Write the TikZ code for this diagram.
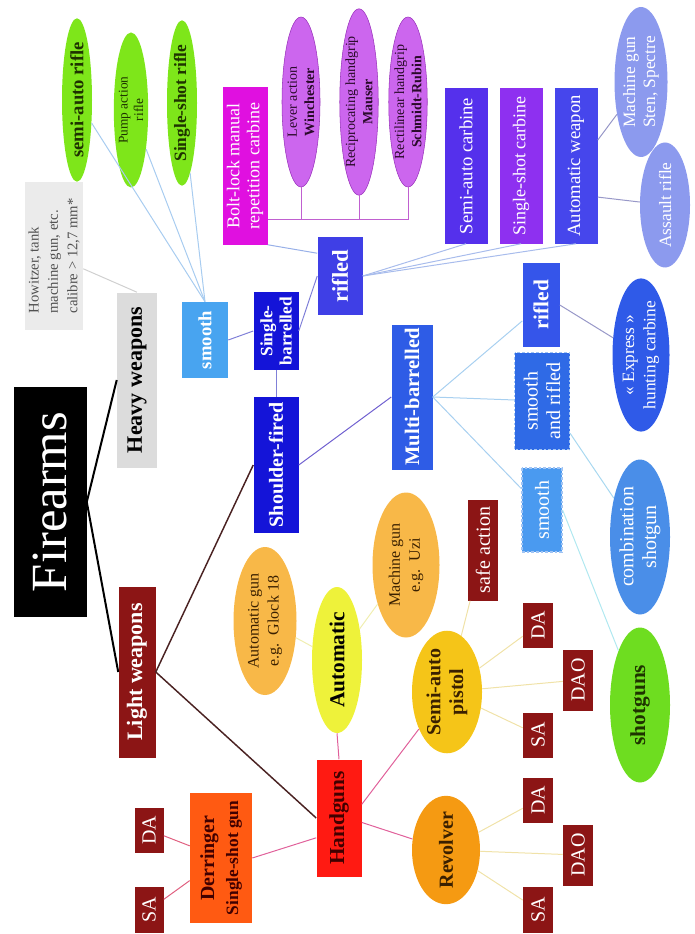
\documentclass[tikz,border=0pt]{standalone}
\usepackage{fontspec}
\setmainfont{Liberation Serif}
\usetikzlibrary{shapes.geometric}
\newcommand\fz[2]{\fontsize{#1}{#2}\selectfont}
\definecolor{howgray}{HTML}{EBEBEB}
\definecolor{howtext}{HTML}{505050}
\definecolor{heavygray}{HTML}{DCDCDC}
\definecolor{maroonx}{HTML}{8C1515}
\definecolor{shoulderblue}{HTML}{1414D8}
\definecolor{smoothblue}{HTML}{48A4F0}
\definecolor{rifblue}{HTML}{3F3FE6}
\definecolor{boltmag}{HTML}{E010E0}
\definecolor{greenell}{HTML}{7EE61A}
\definecolor{greentext}{HTML}{1E3300}
\definecolor{purpleell}{HTML}{CC66EE}
\definecolor{purpleedge}{HTML}{9933BB}
\definecolor{purpletext}{HTML}{2A0A2A}
\definecolor{sacblue}{HTML}{5530EC}
\definecolor{sscpurple}{HTML}{8E30F0}
\definecolor{awblue}{HTML}{4646EC}
\definecolor{periw}{HTML}{8C9AEE}
\definecolor{multiblue}{HTML}{2E5CE6}
\definecolor{rif2blue}{HTML}{3555EA}
\definecolor{srblue}{HTML}{2F6AE6}
\definecolor{sm2blue}{HTML}{4A9AF0}
\definecolor{dashedge}{HTML}{A0C4F4}
\definecolor{expblue}{HTML}{2F5AE8}
\definecolor{combblue}{HTML}{4A8EE8}
\definecolor{shotgreen}{HTML}{6EDD20}
\definecolor{orangeell}{HTML}{F8B848}
\definecolor{orangetext}{HTML}{3A2000}
\definecolor{autoyellow}{HTML}{EEF23A}
\definecolor{handred}{HTML}{FF1A12}
\definecolor{handtext}{HTML}{400000}
\definecolor{derorange}{HTML}{FF5A12}
\definecolor{sapyellow}{HTML}{F5C518}
\definecolor{revorange}{HTML}{F59A12}
\definecolor{lnlight}{HTML}{4A2222}
\definecolor{lnhow}{HTML}{D0D0D0}
\definecolor{lnsmooth}{HTML}{A8CCF0}
\definecolor{lnsingle}{HTML}{8080D8}
\definecolor{lnbolt}{HTML}{98B0E8}
\definecolor{lncarb}{HTML}{A8BCEC}
\definecolor{lnaw}{HTML}{9898C8}
\definecolor{lnmulti}{HTML}{7060D0}
\definecolor{lnmch}{HTML}{A8D0F0}
\definecolor{lncomb}{HTML}{A8D8F0}
\definecolor{lnshot}{HTML}{B0E8F0}
\definecolor{lnhand}{HTML}{E0609A}
\definecolor{lnauto}{HTML}{F0EEB0}
\definecolor{lnder}{HTML}{E06080}
\definecolor{lnsap}{HTML}{F0E2A8}
\definecolor{lnbrk}{HTML}{C060D0}
\tikzset{
  R/.style={rotate=90, inner sep=0pt, align=center, text=white},
  bx/.style={R, rectangle},
  el/.style={R, ellipse},
  sz/.style 2 args={minimum width=#2*0.75pt, minimum height=#1*0.75pt},
  ln/.style={line width=0.75pt},
  dbox/.style={bx, draw=dashedge, dashed, dash pattern=on 2pt off 1.5pt, line width=0.9pt},
  tag/.style={bx, fill=maroonx, font=\fz{15}{17}},
}
\begin{document}
\begin{tikzpicture}[x=0.75pt, y=-0.75pt]
\useasboundingbox (0,0) rectangle (694,934);
% ---------- top level
\node[bx, sz={73}{230}, fill=black, font=\fz{38}{40}] (fire) at (50,502) {Firearms};
\node[bx, sz={40}{175}, fill=heavygray, text=black, font=\fz{16.5}{18}\bfseries] (heavy) at (137,380) {Heavy weapons};
\node[bx, sz={58}{148}, fill=howgray, text=howtext, align=left, font=\fz{11}{14.5}] (how) at (54,256) {Howitzer, tank\\machine gun, etc.\\calibre > 12,7 mm*};
\node[bx, sz={37}{171}, fill=maroonx, font=\fz{16.5}{18}\bfseries] (light) at (137,672) {Light weapons};
% ---------- shoulder-fired
\node[bx, sz={45}{136}, fill=shoulderblue, font=\fz{15}{17}\bfseries] (shoulder) at (276,465) {Shoulder-fired};
\node[bx, sz={45}{78}, fill=shoulderblue, font=\fz{13}{14.5}\bfseries] (single) at (276,331) {Single-\\barrelled};
\node[bx, sz={46}{76}, fill=smoothblue, font=\fz{14}{16}\bfseries] (smooth1) at (205,340) {smooth};
\node[bx, sz={45}{78}, fill=rifblue, font=\fz{17}{19}\bfseries] (rif1) at (340,276) {rifled};
\node[bx, sz={45}{157}, fill=boltmag, font=\fz{13.5}{15}] (bolt) at (245,166) {Bolt-lock manual\\repetition carbine};
\node[el, sz={30}{140}, fill=greenell, text=greentext, font=\fz{14}{16}\bfseries] (sar) at (77,100) {semi-auto rifle};
\node[el, sz={33}{155}, fill=greenell, text=greentext, font=\fz{10}{11.5}] (par) at (131,110) {Pump action\\rifle};
\node[el, sz={30}{140}, fill=greenell, text=greentext, font=\fz{13}{15}\bfseries] (ssr) at (182,103) {Single-shot rifle};
\node[el, sz={38}{170}, fill=purpleell, draw=purpleedge, text=purpletext, font=\fz{10.5}{13}] (lever) at (301,102) {Lever action\\\textbf{Winchester}};
\node[el, sz={37}{170}, fill=purpleell, draw=purpleedge, text=purpletext, font=\fz{10.5}{13}] (mauser) at (359,102) {Reciprocating handgrip\\\textbf{Mauser}};
\node[el, sz={38}{170}, fill=purpleell, draw=purpleedge, text=purpletext, font=\fz{10.5}{13}] (schmidt) at (408,102) {Rectilinear handgrip\\\textbf{Schmidt-Rubin}};
\node[bx, sz={43}{155}, fill=sacblue, font=\fz{14}{16}] (sac) at (466,166) {Semi-auto carbine};
\node[bx, sz={43}{155}, fill=sscpurple, font=\fz{13.5}{16}] (ssc) at (521,166) {Single-shot carbine};
\node[bx, sz={43}{155}, fill=awblue, font=\fz{14}{16}] (aw) at (576,166) {Automatic weapon};
\node[el, sz={53}{150}, fill=periw, font=\fz{13}{15}] (mg) at (641,82) {Machine gun\\Sten, Spectre};
\node[el, sz={50}{125}, fill=periw, font=\fz{13}{15}] (ar) at (665,205) {Assault rifle};
\node[bx, sz={41}{145}, fill=multiblue, font=\fz{15.5}{17}\bfseries] (multi) at (412,397) {Multi-barrelled};
\node[bx, sz={37}{84}, fill=rif2blue, font=\fz{16}{18}\bfseries] (rif2) at (541,305) {rifled};
\node[dbox, sz={55}{97}, fill=srblue, font=\fz{15}{17}] (sr) at (542,401) {smooth\\and rifled};
\node[dbox, sz={40}{84}, fill=sm2blue, font=\fz{15}{17}] (sm2) at (542,510) {smooth};
\node[el, sz={57}{144}, fill=expblue, font=\fz{13}{16}] (exp) at (641,355) {«~Express~»\\hunting carbine};
\node[el, sz={60}{155}, fill=combblue, font=\fz{15}{17}] (comb) at (640,537) {combination\\shotgun};
\node[el, sz={60}{155}, fill=shotgreen, text=greentext, font=\fz{16}{18}\bfseries] (shot) at (640,705) {shotguns};
% ---------- handguns
\node[el, sz={63}{148}, fill=orangeell, text=orangetext, font=\fz{12}{15}] (glock) at (265,621) {Automatic gun\\e.g.~~Glock 18};
\node[el, sz={50}{146}, fill=autoyellow, text=black, font=\fz{16}{18}\bfseries] (auto) at (337,660) {Automatic};
\node[el, sz={67}{145}, fill=orangeell, text=orangetext, font=\fz{12}{15}] (uzi) at (406,565) {Machine gun\\e.g.~~Uzi};
\node[bx, sz={45}{117}, fill=handred, text=handtext, font=\fz{16}{18}\bfseries] (hand) at (339,818) {Handguns};
\node[bx, sz={62}{130}, fill=derorange, text=handtext, font=\fz{13}{18}\bfseries] (der) at (221,858) {{\fz{15}{18}Derringer}\\Single-shot gun};
\node[tag, sz={29}{45}] (da0) at (149,830) {DA};
\node[tag, sz={29}{46}] (sa0) at (149,910) {SA};
\node[el, sz={70}{100}, fill=sapyellow, text=orangetext, font=\fz{15}{17}\bfseries] (sap) at (447,692) {Semi-auto\\pistol};
\node[el, sz={68}{100}, fill=revorange, text=orangetext, font=\fz{15}{17}\bfseries] (rev) at (446,850) {Revolver};
\node[tag, sz={30}{101}] (safe) at (483,550) {safe action};
\node[tag, sz={30}{45}] (da1) at (538,625) {DA};
\node[tag, sz={30}{61}] (dao1) at (578,680) {DAO};
\node[tag, sz={30}{45}] (sa1) at (538,735) {SA};
\node[tag, sz={30}{45}] (da2) at (538,800) {DA};
\node[tag, sz={30}{61}] (dao2) at (578,855) {DAO};
\node[tag, sz={30}{46}] (sa2) at (538,910) {SA};
% ---------- connectors
\draw[line width=1.5pt] (fire.south) -- (heavy.north);
\draw[line width=1.5pt] (fire.south) -- (light.north);
\draw[line width=1.1pt, lnlight] (light.south) -- (shoulder.north);
\draw[line width=1.1pt, lnlight] (light.south) -- (hand.north);
\draw[ln, lnhow] (how) -- (heavy.east);
\draw[ln, lnsmooth] (smooth1.east) -- (sar);
\draw[ln, lnsmooth] (smooth1.east) -- (par);
\draw[ln, lnsmooth] (smooth1.east) -- (ssr);
\draw[ln, lnsingle] (shoulder.east) -- (single.west);
\draw[ln, lnsingle] (single.north) -- (smooth1.south);
\draw[ln, lnsingle] (single.south) -- (rif1.north);
\draw[ln, lnbolt] (rif1.45) -- (bolt.south west);
\draw[ln, lncarb] (rif1.south) -- (sac.west);
\draw[ln, lncarb] (rif1.south) -- (ssc.west);
\draw[ln, lncarb] (rif1.south) -- (aw.west);
\coordinate (bj) at (0,220);
\draw[ln, lnbrk] (bolt.south |- bj) -- (schmidt.west |- bj);
\draw[ln, lnbrk] (lever.west) -- (lever.west |- bj);
\draw[ln, lnbrk] (mauser.west) -- (mauser.west |- bj);
\draw[ln, lnbrk] (schmidt.west) -- (schmidt.west |- bj);
\draw[ln, lnaw] (aw.-40) -- (mg);
\draw[ln, lnaw] (aw.-145) -- (ar);
\draw[ln, lnmulti] (shoulder.south) -- (multi.north);
\draw[ln, lnmch] (multi.south) -- (rif2);
\draw[ln, lnmch] (multi.south) -- (sr);
\draw[ln, lnmch] (multi.south) -- (sm2);
\draw[ln, lnaw] (rif2.south) -- (exp);
\draw[ln, lncomb] (sr.-139) -- (comb);
\draw[ln, lnshot] (sm2.south) -- (shot);
\draw[ln, lnhand] (hand.east) -- (auto.west);
\draw[ln, lnhand] (hand.131) -- (der.south);
\draw[ln, lnhand] (hand.-59) -- (sap);
\draw[ln, lnhand] (hand.-101) -- (rev);
\draw[ln, lnauto] (auto) -- (glock);
\draw[ln, lnauto] (auto) -- (uzi);
\draw[ln, lnder] (der) -- (da0);
\draw[ln, lnder] (der) -- (sa0);
\draw[ln, lnsap] (sap) -- (safe);
\draw[ln, lnsap] (sap) -- (da1);
\draw[ln, lnsap] (sap) -- (dao1);
\draw[ln, lnsap] (sap) -- (sa1);
\draw[ln, lnsap] (rev) -- (da2);
\draw[ln, lnsap] (rev) -- (dao2);
\draw[ln, lnsap] (rev) -- (sa2);
\end{tikzpicture}
\end{document}
